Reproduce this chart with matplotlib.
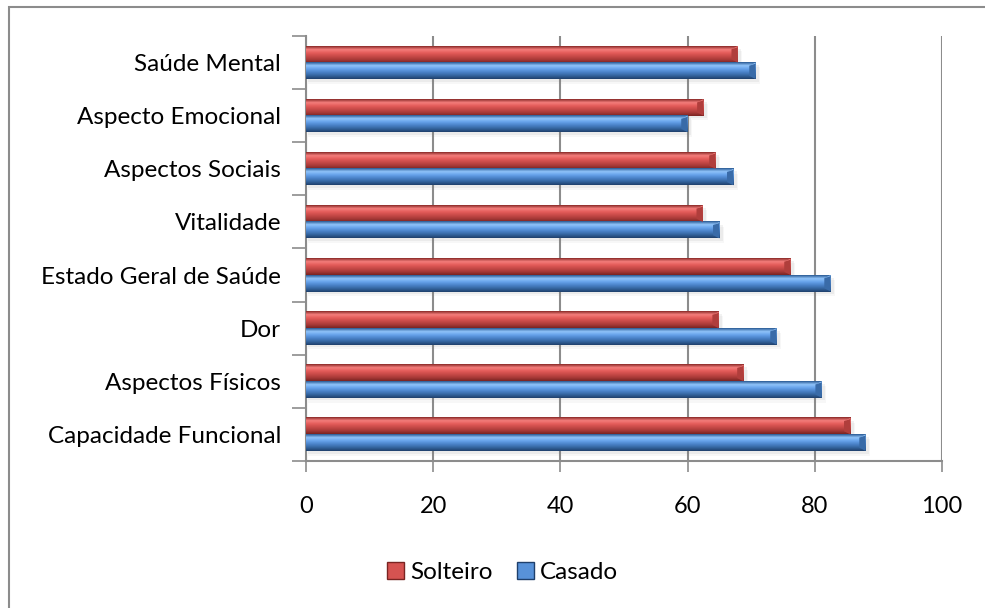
import matplotlib.pyplot as plt
import numpy as np
from matplotlib.colors import LinearSegmentedColormap
from matplotlib.patches import Patch, Rectangle

plt.rcParams['font.family'] = ['Lato', 'DejaVu Sans']

categories = ['Capacidade Funcional', 'Aspectos Físicos', 'Dor',
              'Estado Geral de Saúde', 'Vitalidade', 'Aspectos Sociais',
              'Aspecto Emocional', 'Saúde Mental']
solteiro = [85.6, 68.8, 64.9, 76.2, 62.4, 64.4, 62.5, 67.9]
casado = [88.0, 81.1, 74.0, 82.5, 65.0, 67.2, 60.0, 70.7]
xticks = [0, 20, 40, 60, 80, 100]

# top -> bottom colour ramps for the bevelled bars
red_cmap = LinearSegmentedColormap.from_list(
    'red', ['#8a2a28', '#f47e7c', '#e45c5a', '#c84a48', '#a83a38', '#7a2422'])
blue_cmap = LinearSegmentedColormap.from_list(
    'blue', ['#2a5a94', '#90c4fa', '#66a2ea', '#4a82c8', '#34649e', '#1f406c'])

fig = plt.figure(figsize=(9.85, 6.08), dpi=100)
ax = fig.add_axes([0.3107, 0.2418, 0.6456, 0.699])

# outer chart border, right and bottom edges fall outside the picture
fig.patches.append(Rectangle((9 / 985, -0.5), 2, 1.5 - 7 / 608, transform=fig.transFigure,
                             fill=False, edgecolor='#8c8c8c', linewidth=1.5))

h = 0.31
grad = np.linspace(0, 1, 64).reshape(-1, 1)
y = np.arange(len(categories))


def draw_bar(v, yc, cmap):
    # soft shadow
    for k, a in [(0.05, 0.10), (0.09, 0.06)]:
        ax.add_patch(Rectangle((0.3, yc - h / 2 - k), v + k * 4, h, facecolor='#808080',
                               alpha=a, edgecolor='none', zorder=2))
    ax.imshow(grad, cmap=cmap, extent=[0, v, yc - h / 2, yc + h / 2],
              aspect='auto', origin='upper', zorder=3)
    # bevel on the right end
    d = 1.0
    ax.fill([v - d, v, v, v - d], [yc + h / 2 - 0.06, yc + h / 2, yc - h / 2, yc - h / 2 + 0.06],
            color=cmap(0.75), zorder=4, linewidth=0)
    ax.fill([v - d, v, v], [yc + h / 2 - 0.06, yc + h / 2, yc + h / 2 - 0.02],
            color=cmap(0.2), zorder=4, linewidth=0)


for i in range(len(categories)):
    draw_bar(solteiro[i], y[i] + h / 2, red_cmap)
    draw_bar(casado[i], y[i] - h / 2, blue_cmap)

ax.set_xlim(0, 100)
ax.set_ylim(-0.5, len(categories) - 0.5)
ax.set_xticks(xticks)
ax.set_xticklabels([str(t) for t in xticks], fontsize=17)
ax.set_yticks(y)
ax.set_yticklabels(categories, fontsize=17.5)
ax.set_yticks(np.arange(-0.5, len(categories), 1.0), minor=True)
ax.tick_params(axis='y', which='major', length=0, pad=18)
ax.tick_params(axis='y', which='minor', length=10, color='#8c8c8c', width=1.2)
ax.tick_params(axis='x', length=8, color='#8c8c8c', width=1.2, pad=17)

ax.grid(axis='x', color='#8c8c8c', linewidth=1.5, zorder=1)
ax.set_axisbelow(True)
for s in ['top', 'right']:
    ax.spines[s].set_visible(False)
for s in ['left', 'bottom']:
    ax.spines[s].set_color('#8c8c8c')
    ax.spines[s].set_linewidth(1.5)

handles = [Patch(facecolor=red_cmap(0.5), edgecolor='#7a2422', label='Solteiro'),
           Patch(facecolor=blue_cmap(0.5), edgecolor='#1f406c', label='Casado')]
fig.legend(handles=handles, loc='center', bbox_to_anchor=(0.51, 0.059), ncol=2,
           frameon=False, fontsize=17.5, handlelength=0.7, handleheight=0.7,
           handletextpad=0.25, columnspacing=1.0)

fig.savefig('out.png', dpi=100)
